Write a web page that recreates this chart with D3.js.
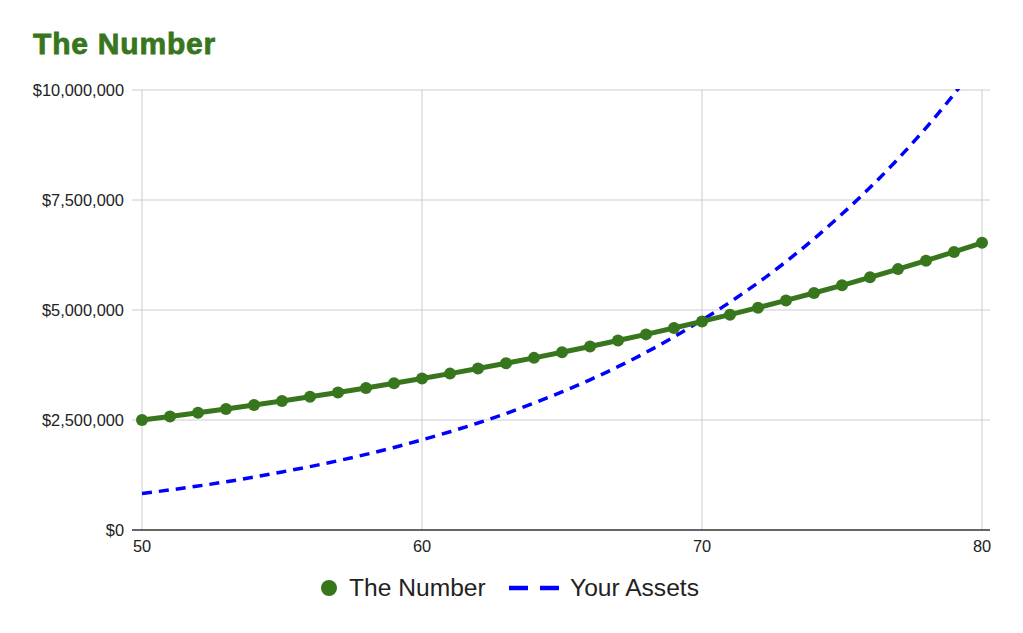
<!DOCTYPE html>
<html>
<head>
<meta charset="utf-8">
<script src="https://cdn.jsdelivr.net/npm/d3@7"></script>
<style>
  html, body { margin: 0; padding: 0; background: #fff; }
  svg { display: block; font-family: "Liberation Sans", Arial, sans-serif; }
</style>
</head>
<body>
<svg id="chart" width="1023" height="633"></svg>
<script>
const ages = [50,51,52,53,54,55,56,57,58,59,60,61,62,63,64,65,66,67,68,69,70,71,72,73,74,75,76,77,78,79,80];
const theNumber = [2500000,2581000,2665000,2752000,2841000,2934000,3029000,3127000,3229000,3334000,3442000,3554000,3670000,3789000,3912000,4039000,4170000,4306000,4446000,4590000,4740000,4894000,5053000,5217000,5386000,5561000,5742000,5929000,6121000,6320000,6526000];
const yourAssets = [830000,911000,999000,1096000,1202000,1320000,1441000,1574000,1718000,1876000,2050000,2233000,2432000,2648000,2884000,3140000,3414000,3712000,4036000,4389000,4772000,5178000,5620000,6098000,6618000,7181000,7782000,8434000,9140000,9905000,10734000];
const xTicks = [50,60,70,80];
const yTicks = [0,2500000,5000000,7500000,10000000];
const seriesNames = ["The Number","Your Assets"];
const titleText = "The Number";

const green = "#38761d", blue = "#0000ff";
const svg = d3.select("#chart");
const x = d3.scaleLinear().domain([50,80]).range([142,982]);
const y = d3.scaleLinear().domain([0,10000000]).range([530,90]);
const gridLeft = 132, gridRight = 990;
const fmt = v => "$" + d3.format(",")(v);

// title
svg.append("text").attr("x",33).attr("y",54)
  .attr("font-size",30).attr("font-weight","bold").attr("letter-spacing",0.8)
  .attr("fill",green).attr("stroke",green).attr("stroke-width",0.8).text(titleText);

// horizontal gridlines
svg.append("g").selectAll("line").data(yTicks.filter(d=>d>0)).join("line")
  .attr("x1",gridLeft).attr("x2",gridRight)
  .attr("y1",d=>y(d)).attr("y2",d=>y(d))
  .attr("stroke","#cccccc").attr("stroke-width",1);
// vertical gridlines
svg.append("g").selectAll("line").data(xTicks).join("line")
  .attr("x1",d=>x(d)).attr("x2",d=>x(d))
  .attr("y1",y(10000000)).attr("y2",y(0))
  .attr("stroke","#cccccc").attr("stroke-width",1);
// baseline
svg.append("line").attr("x1",gridLeft).attr("x2",gridRight)
  .attr("y1",y(0)).attr("y2",y(0)).attr("stroke","#333333").attr("stroke-width",1.5);

// y labels
svg.append("g").selectAll("text").data(yTicks).join("text")
  .attr("x",124).attr("y",d=>y(d)+6).attr("text-anchor","end")
  .attr("font-size",16.4).attr("fill","#222222").text(fmt);
// x labels
svg.append("g").selectAll("text").data(xTicks).join("text")
  .attr("x",d=>x(d)).attr("y",552).attr("text-anchor","middle")
  .attr("font-size",16.4).attr("fill","#222222").text(d=>d);

// clip
svg.append("defs").append("clipPath").attr("id","clip")
  .append("rect").attr("x",gridLeft).attr("y",y(10000000)-1).attr("width",gridRight-gridLeft).attr("height",y(0)-y(10000000)+12);

const line = d3.line().x((d,i)=>x(ages[i])).y(d=>y(d));

svg.append("path").datum(yourAssets).attr("clip-path","url(#clip)")
  .attr("d",line.curve(d3.curveMonotoneX)).attr("fill","none")
  .attr("stroke",blue).attr("stroke-width",3.5).attr("stroke-dasharray","10,7");

svg.append("path").datum(theNumber)
  .attr("d",d3.line().x((d,i)=>x(ages[i])).y(d=>y(d))).attr("fill","none")
  .attr("stroke",green).attr("stroke-width",5);
svg.append("g").selectAll("circle").data(theNumber).join("circle")
  .attr("cx",(d,i)=>x(ages[i])).attr("cy",d=>y(d)).attr("r",6).attr("fill",green);

// legend
const lg = svg.append("g");
lg.append("circle").attr("cx",329).attr("cy",588).attr("r",8).attr("fill",green);
lg.append("text").attr("x",349).attr("y",596).attr("font-size",24.6).attr("fill","#222222").text(seriesNames[0]);
lg.append("line").attr("x1",509).attr("x2",559).attr("y1",588).attr("y2",588)
  .attr("stroke",blue).attr("stroke-width",4.5).attr("stroke-dasharray","19,12");
lg.append("text").attr("x",570).attr("y",596).attr("font-size",24.6).attr("fill","#222222").text(seriesNames[1]);
</script>
</body>
</html>
